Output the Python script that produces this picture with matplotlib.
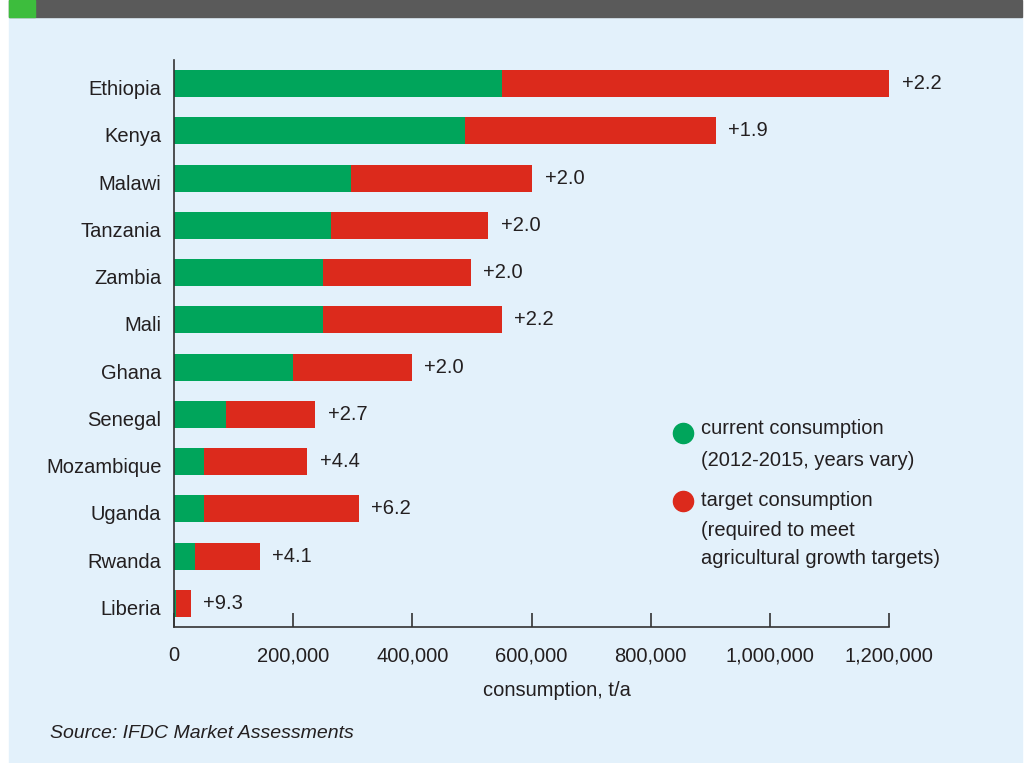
import matplotlib.pyplot as plt
from matplotlib.patches import Rectangle
from matplotlib.transforms import ScaledTranslation

plt.rcParams['font.family'] = ['Liberation Sans', 'DejaVu Sans']

# Fertilizer consumption per country, tonnes per year
countries = ["Ethiopia", "Kenya", "Malawi", "Tanzania", "Zambia", "Mali",
             "Ghana", "Senegal", "Mozambique", "Uganda", "Rwanda", "Liberia"]
current = [550000, 488000, 297000, 263000, 250000, 250000,
           200000, 87000, 51000, 50000, 35000, 3000]
target = [1200000, 909000, 601000, 527000, 498000, 550000,
          399000, 237000, 224000, 310000, 144000, 28000]
xticks = [0, 200000, 400000, 600000, 800000, 1000000, 1200000]

green = "#00a55b"
red = "#dc2a1c"
panel = "#e3f1fb"
text_c = "#231f20"

fig = plt.figure(figsize=(10.27, 7.63), dpi=100)

# background panel and header strip
fig.add_artist(Rectangle((9 / 1027, 0), 1013 / 1027, 746 / 763,
                         transform=fig.transFigure, color=panel, zorder=0))
fig.add_artist(Rectangle((9 / 1027, 746 / 763), 1013 / 1027, 17 / 763,
                         transform=fig.transFigure, color="#5a5a5a", zorder=0))
fig.add_artist(Rectangle((9 / 1027, 746 / 763), 26 / 1027, 17 / 763,
                         transform=fig.transFigure, color="#3dbd3d", zorder=1))

ax = fig.add_axes([174 / 1027, 136 / 763, 715 / 1027, 567 / 763])
ax.set_facecolor("none")

pos = range(len(countries))
gap = [t - c for t, c in zip(target, current)]
ax.barh(pos, current, height=0.57, color=green)
ax.barh(pos, gap, left=current, height=0.57, color=red)

for i, (c, t) in enumerate(zip(current, target)):
    ax.annotate("+{:.1f}".format(t / c), (t, i), xytext=(9, 0),
                textcoords="offset points", va="center", ha="left",
                fontsize=14.5, color=text_c)

ax.set_xlim(0, 1200000)
ax.set_ylim(len(countries) - 0.5, -0.5)
ax.set_yticks(list(pos))
ax.set_yticklabels(countries, fontsize=14.5, color=text_c)
ax.set_xticks(xticks)
ax.set_xticklabels(["{:,}".format(v) for v in xticks], fontsize=14.5, color=text_c)
ax.tick_params(axis="y", length=0, pad=9)
ax.tick_params(axis="x", direction="in", length=10, width=1.2, color="#333333", pad=14)

# country names sit a little below the bar centres
shift = ScaledTranslation(0, -0.04, fig.dpi_scale_trans)
for lab in ax.get_yticklabels():
    lab.set_transform(lab.get_transform() + shift)

for s in ["top", "right"]:
    ax.spines[s].set_visible(False)
for s in ["left", "bottom"]:
    ax.spines[s].set_color("#333333")
    ax.spines[s].set_linewidth(1.2)

fig.text(557 / 1027, 1 - 691 / 763, "consumption, t/a", ha="center", va="center",
         fontsize=14.5, color=text_c)

# legend
ax.plot([683 / 1027], [1 - 433 / 763], "o", color=green, markersize=14.5,
        transform=fig.transFigure, clip_on=False)
ax.plot([683 / 1027], [1 - 501 / 763], "o", color=red, markersize=14.5,
        transform=fig.transFigure, clip_on=False)
legend_lines = [(429, "current consumption"), (460, "(2012-2015, years vary)"),
                (500, "target consumption"), (530, "(required to meet"),
                (559, "agricultural growth targets)")]
for y, s in legend_lines:
    fig.text(701 / 1027, 1 - y / 763, s, ha="left", va="center",
             fontsize=14.5, color=text_c)

fig.text(50 / 1027, 1 - 733 / 763, "Source: IFDC Market Assessments", ha="left",
         va="center", fontsize=14, style="italic", color=text_c)

fig.savefig("out.png", dpi=100)
